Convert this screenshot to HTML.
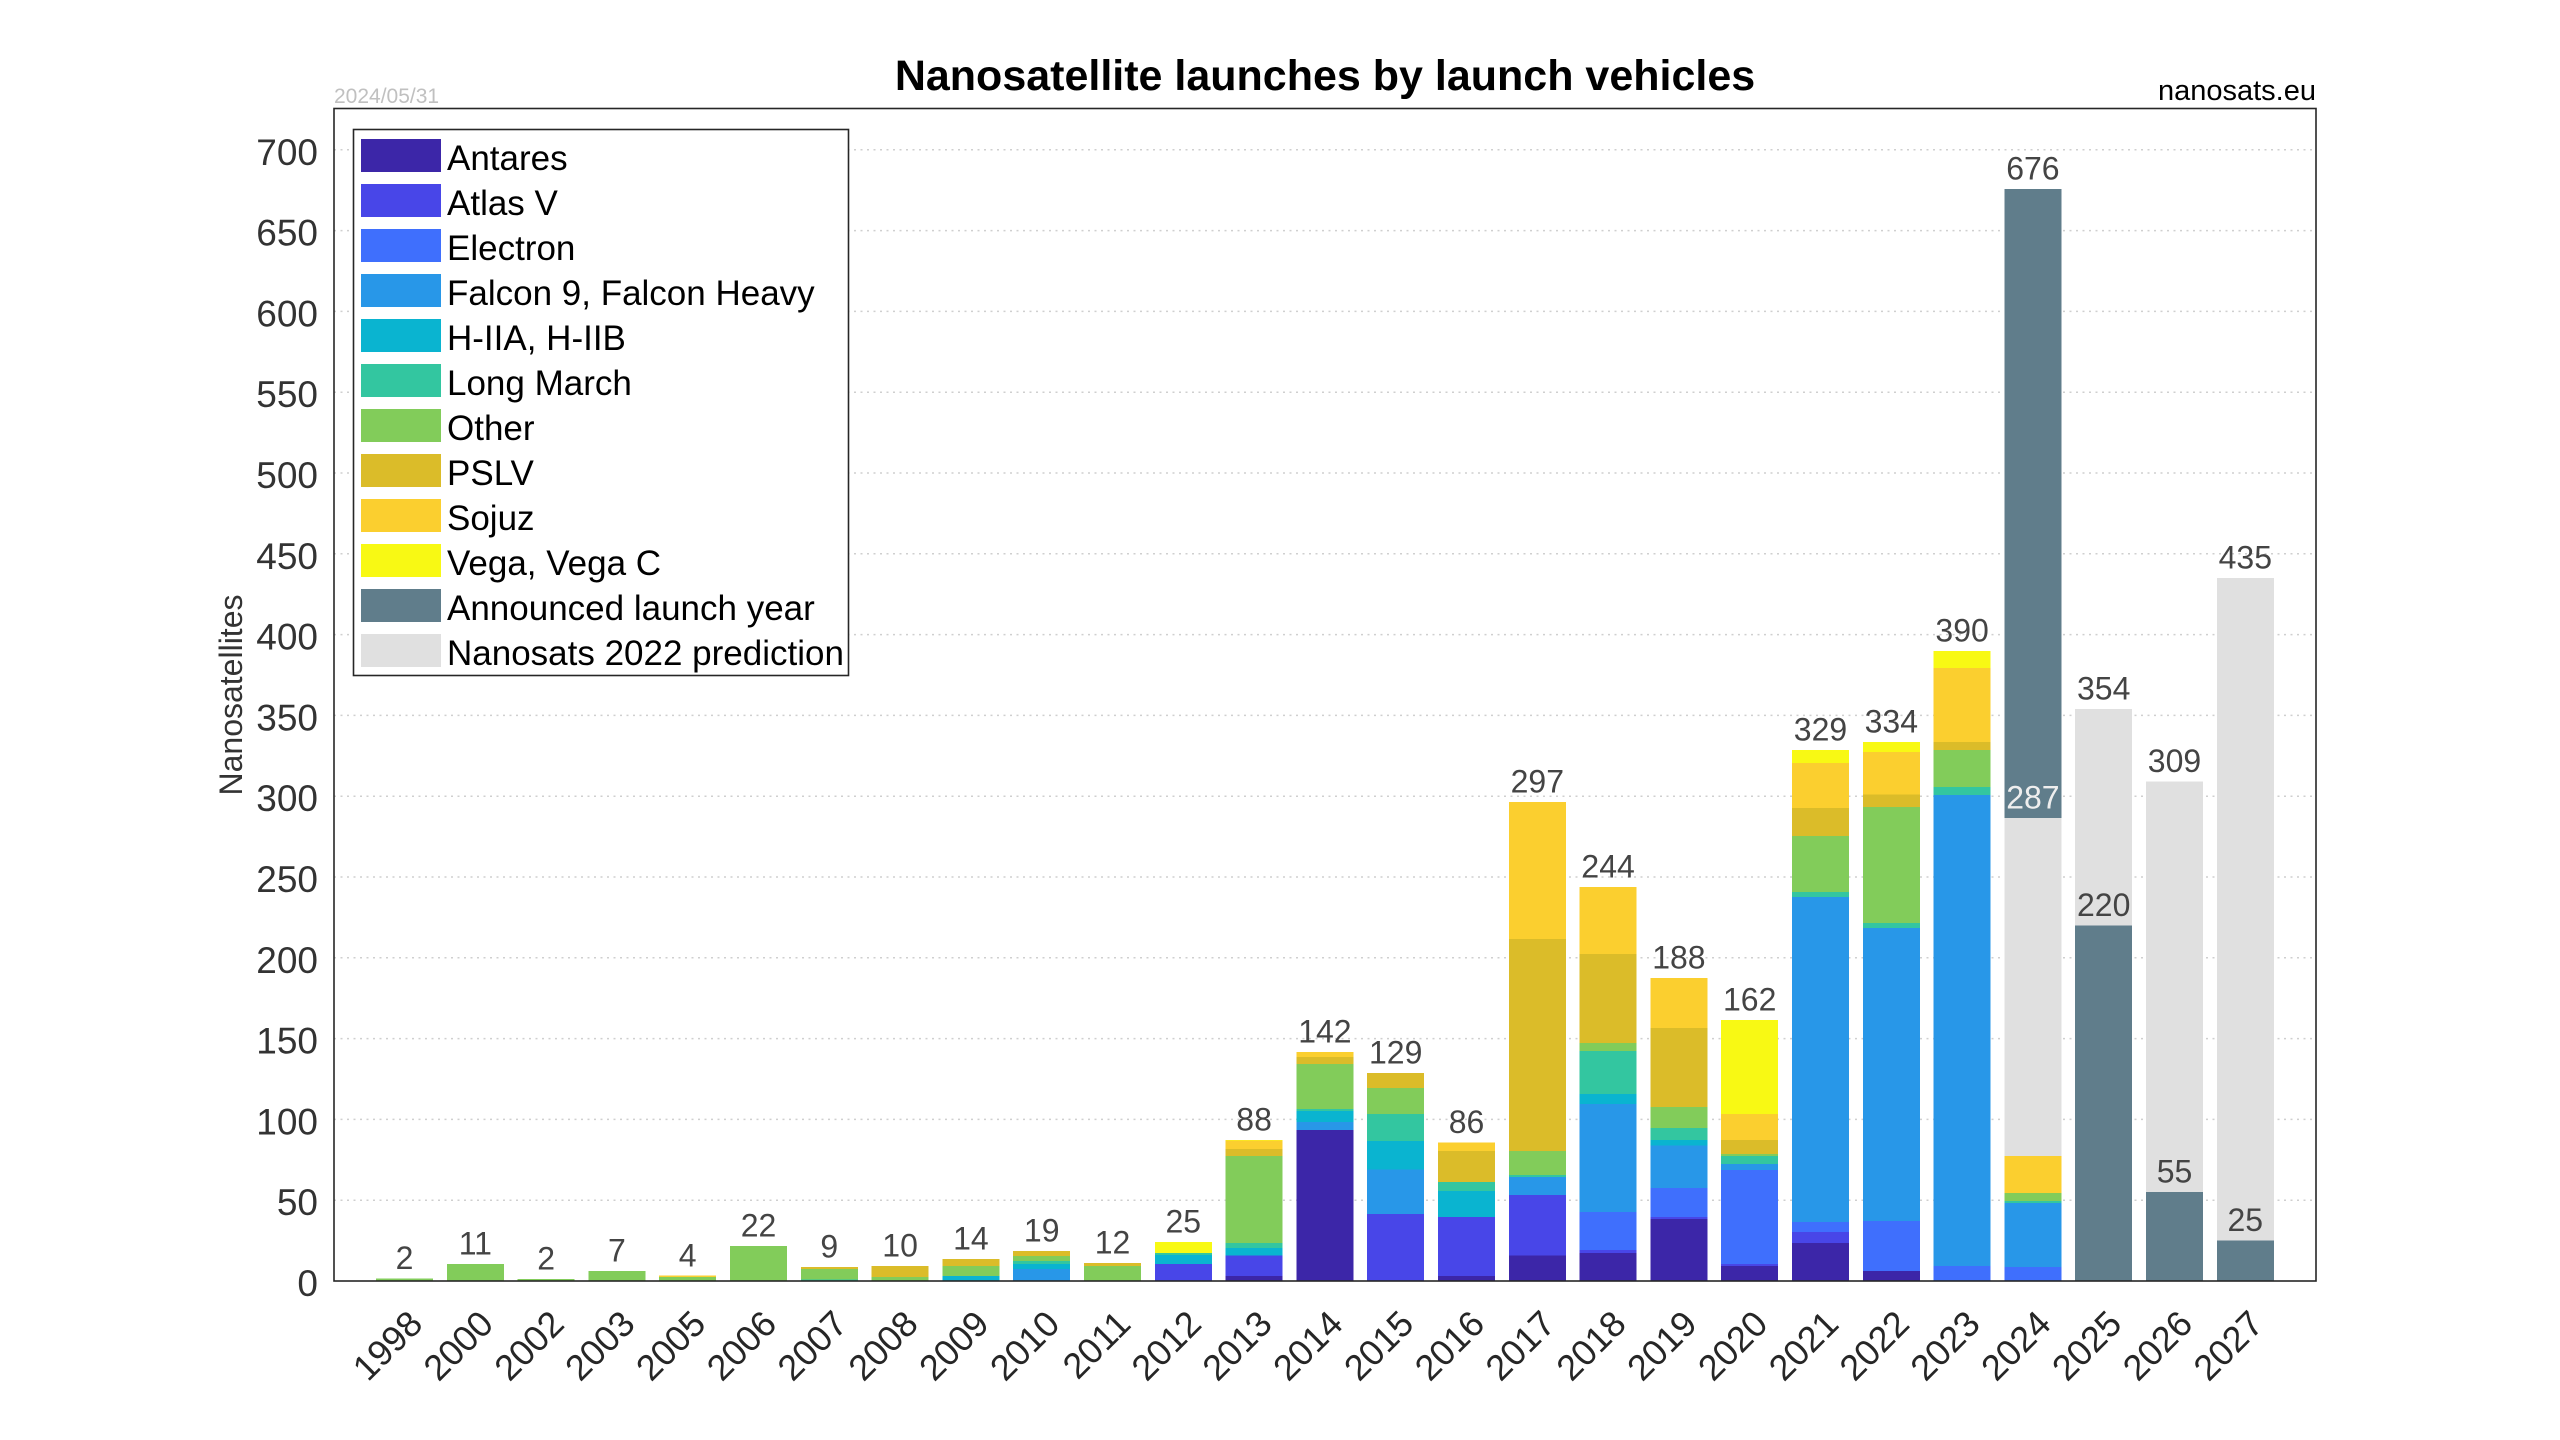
<!DOCTYPE html>
<html><head><meta charset="utf-8"><style>
html,body{margin:0;padding:0;background:#fff;}
svg{display:block;font-family:"Liberation Sans",Arial,sans-serif;}
</style></head><body>
<svg width="2560" height="1440" viewBox="0 0 2560 1440" xmlns="http://www.w3.org/2000/svg">
<rect x="0" y="0" width="2560" height="1440" fill="#fff"/>
<!-- title -->
<text x="1325" y="90" font-size="43" font-weight="bold" text-anchor="middle" fill="#000">Nanosatellite launches by launch vehicles</text>
<text x="334" y="103" font-size="21" fill="#c0c0c0">2024/05/31</text>
<text x="2316" y="100" font-size="29" text-anchor="end" fill="#000">nanosats.eu</text>
<!-- grid -->
<g stroke="#cfcfcf" stroke-width="1.5" stroke-dasharray="2,4.5">
<line x1="334" x2="2316" y1="1200.2" y2="1200.2"/><line x1="334" x2="2316" y1="1119.4" y2="1119.4"/>
<line x1="334" x2="2316" y1="1038.6" y2="1038.6"/><line x1="334" x2="2316" y1="957.8" y2="957.8"/>
<line x1="334" x2="2316" y1="877" y2="877"/><line x1="334" x2="2316" y1="796.2" y2="796.2"/>
<line x1="334" x2="2316" y1="715.4" y2="715.4"/><line x1="334" x2="2316" y1="634.6" y2="634.6"/>
<line x1="334" x2="2316" y1="553.8" y2="553.8"/><line x1="334" x2="2316" y1="473" y2="473"/>
<line x1="334" x2="2316" y1="392.2" y2="392.2"/><line x1="334" x2="2316" y1="311.4" y2="311.4"/>
<line x1="334" x2="2316" y1="230.6" y2="230.6"/><line x1="334" x2="2316" y1="149.8" y2="149.8"/>
</g>
<!-- bars -->
<g transform="translate(0,1281) scale(1,-1.616)" shape-rendering="crispEdges">
<rect x="376" width="57" y="0" height="1.5" fill="#82cc5a"/>
<rect x="446.8" width="57" y="0" height="10.5" fill="#82cc5a"/>
<rect x="517.6" width="57" y="0" height="1.3" fill="#82cc5a"/>
<rect x="588.4" width="57" y="0" height="6.2" fill="#82cc5a"/>
<rect x="659.2" width="57" y="0" height="2.5" fill="#82cc5a"/>
<rect x="659.2" width="57" y="2.5" height="0.8" fill="#fbcf2f"/>
<rect x="730" width="57" y="0" height="21.6" fill="#82cc5a"/>
<rect x="800.8" width="57" y="0" height="0.8" fill="#33c6a0"/>
<rect x="800.8" width="57" y="0.8" height="6.6" fill="#82cc5a"/>
<rect x="800.8" width="57" y="7.4" height="1.3" fill="#dbbc29"/>
<rect x="871.6" width="57" y="0" height="2.5" fill="#82cc5a"/>
<rect x="871.6" width="57" y="2.5" height="6.8" fill="#dbbc29"/>
<rect x="942.4" width="57" y="0" height="3.1" fill="#0ab4d0"/>
<rect x="942.4" width="57" y="3.1" height="6.2" fill="#82cc5a"/>
<rect x="942.4" width="57" y="9.3" height="4.3" fill="#dbbc29"/>
<rect x="1013.2" width="57" y="0" height="7.4" fill="#2897e8"/>
<rect x="1013.2" width="57" y="7.4" height="3.1" fill="#0ab4d0"/>
<rect x="1013.2" width="57" y="10.5" height="1.9" fill="#33c6a0"/>
<rect x="1013.2" width="57" y="12.4" height="3.1" fill="#82cc5a"/>
<rect x="1013.2" width="57" y="15.5" height="3.1" fill="#dbbc29"/>
<rect x="1084" width="57" y="0" height="9.3" fill="#82cc5a"/>
<rect x="1084" width="57" y="9.3" height="1.8" fill="#dbbc29"/>
<rect x="1154.8" width="57" y="0" height="10.5" fill="#4846e8"/>
<rect x="1154.8" width="57" y="10.5" height="5.6" fill="#0ab4d0"/>
<rect x="1154.8" width="57" y="16.1" height="1.2" fill="#33c6a0"/>
<rect x="1154.8" width="57" y="17.3" height="6.8" fill="#f8f914"/>
<rect x="1225.6" width="57" y="0" height="3.1" fill="#3c26a8"/>
<rect x="1225.6" width="57" y="3.1" height="12.6" fill="#4846e8"/>
<rect x="1225.6" width="57" y="15.7" height="4.7" fill="#0ab4d0"/>
<rect x="1225.6" width="57" y="20.4" height="3.1" fill="#33c6a0"/>
<rect x="1225.6" width="57" y="23.5" height="53.8" fill="#82cc5a"/>
<rect x="1225.6" width="57" y="77.3" height="4.3" fill="#dbbc29"/>
<rect x="1225.6" width="57" y="81.6" height="5.2" fill="#fbcf2f"/>
<rect x="1225.6" width="57" y="86.8" height="0.6" fill="#f8f914"/>
<rect x="1296.4" width="57" y="0" height="93.4" fill="#3c26a8"/>
<rect x="1296.4" width="57" y="93.4" height="5" fill="#2897e8"/>
<rect x="1296.4" width="57" y="98.4" height="6.8" fill="#0ab4d0"/>
<rect x="1296.4" width="57" y="105.2" height="1.2" fill="#33c6a0"/>
<rect x="1296.4" width="57" y="106.4" height="27.8" fill="#82cc5a"/>
<rect x="1296.4" width="57" y="134.2" height="4.4" fill="#dbbc29"/>
<rect x="1296.4" width="57" y="138.6" height="3" fill="#fbcf2f"/>
<rect x="1367.2" width="57" y="0" height="41.4" fill="#4846e8"/>
<rect x="1367.2" width="57" y="41.4" height="27.5" fill="#2897e8"/>
<rect x="1367.2" width="57" y="68.9" height="17.7" fill="#0ab4d0"/>
<rect x="1367.2" width="57" y="86.6" height="16.7" fill="#33c6a0"/>
<rect x="1367.2" width="57" y="103.3" height="16.1" fill="#82cc5a"/>
<rect x="1367.2" width="57" y="119.4" height="9.3" fill="#dbbc29"/>
<rect x="1438" width="57" y="0" height="3.1" fill="#3c26a8"/>
<rect x="1438" width="57" y="3.1" height="36.5" fill="#4846e8"/>
<rect x="1438" width="57" y="39.6" height="16.1" fill="#0ab4d0"/>
<rect x="1438" width="57" y="55.7" height="5.5" fill="#33c6a0"/>
<rect x="1438" width="57" y="61.2" height="19.2" fill="#dbbc29"/>
<rect x="1438" width="57" y="80.4" height="5.2" fill="#fbcf2f"/>
<rect x="1508.8" width="57" y="0" height="15.7" fill="#3c26a8"/>
<rect x="1508.8" width="57" y="15.7" height="37.5" fill="#4846e8"/>
<rect x="1508.8" width="57" y="53.2" height="11.1" fill="#2897e8"/>
<rect x="1508.8" width="57" y="64.3" height="1.3" fill="#33c6a0"/>
<rect x="1508.8" width="57" y="65.6" height="14.8" fill="#82cc5a"/>
<rect x="1508.8" width="57" y="80.4" height="131.1" fill="#dbbc29"/>
<rect x="1508.8" width="57" y="211.5" height="84.8" fill="#fbcf2f"/>
<rect x="1579.6" width="57" y="0" height="17.3" fill="#3c26a8"/>
<rect x="1579.6" width="57" y="17.3" height="1.9" fill="#4846e8"/>
<rect x="1579.6" width="57" y="19.2" height="23.5" fill="#3f6ffd"/>
<rect x="1579.6" width="57" y="42.7" height="66.8" fill="#2897e8"/>
<rect x="1579.6" width="57" y="109.5" height="6.2" fill="#0ab4d0"/>
<rect x="1579.6" width="57" y="115.7" height="26.6" fill="#33c6a0"/>
<rect x="1579.6" width="57" y="142.3" height="4.9" fill="#82cc5a"/>
<rect x="1579.6" width="57" y="147.2" height="55.1" fill="#dbbc29"/>
<rect x="1579.6" width="57" y="202.3" height="41.4" fill="#fbcf2f"/>
<rect x="1650.4" width="57" y="0" height="38.4" fill="#3c26a8"/>
<rect x="1650.4" width="57" y="38.4" height="1.2" fill="#4846e8"/>
<rect x="1650.4" width="57" y="39.6" height="17.9" fill="#3f6ffd"/>
<rect x="1650.4" width="57" y="57.5" height="26.4" fill="#2897e8"/>
<rect x="1650.4" width="57" y="83.9" height="3.3" fill="#0ab4d0"/>
<rect x="1650.4" width="57" y="87.2" height="7.4" fill="#33c6a0"/>
<rect x="1650.4" width="57" y="94.6" height="13" fill="#82cc5a"/>
<rect x="1650.4" width="57" y="107.6" height="48.9" fill="#dbbc29"/>
<rect x="1650.4" width="57" y="156.5" height="30.9" fill="#fbcf2f"/>
<rect x="1721.2" width="57" y="0" height="9.3" fill="#3c26a8"/>
<rect x="1721.2" width="57" y="9.3" height="1.2" fill="#4846e8"/>
<rect x="1721.2" width="57" y="10.5" height="58.2" fill="#3f6ffd"/>
<rect x="1721.2" width="57" y="68.7" height="3.7" fill="#2897e8"/>
<rect x="1721.2" width="57" y="72.4" height="4.9" fill="#33c6a0"/>
<rect x="1721.2" width="57" y="77.3" height="1.3" fill="#82cc5a"/>
<rect x="1721.2" width="57" y="78.6" height="8.6" fill="#dbbc29"/>
<rect x="1721.2" width="57" y="87.2" height="16.1" fill="#fbcf2f"/>
<rect x="1721.2" width="57" y="103.3" height="58.1" fill="#f8f914"/>
<rect x="1792" width="57" y="0" height="23.5" fill="#3c26a8"/>
<rect x="1792" width="57" y="23.5" height="6.8" fill="#4846e8"/>
<rect x="1792" width="57" y="30.3" height="6.2" fill="#3f6ffd"/>
<rect x="1792" width="57" y="36.5" height="201" fill="#2897e8"/>
<rect x="1792" width="57" y="237.5" height="3.1" fill="#33c6a0"/>
<rect x="1792" width="57" y="240.6" height="34.7" fill="#82cc5a"/>
<rect x="1792" width="57" y="275.3" height="17.3" fill="#dbbc29"/>
<rect x="1792" width="57" y="292.6" height="27.8" fill="#fbcf2f"/>
<rect x="1792" width="57" y="320.4" height="8.1" fill="#f8f914"/>
<rect x="1862.8" width="57" y="0" height="6.2" fill="#3c26a8"/>
<rect x="1862.8" width="57" y="6.2" height="30.9" fill="#3f6ffd"/>
<rect x="1862.8" width="57" y="37.1" height="181.3" fill="#2897e8"/>
<rect x="1862.8" width="57" y="218.4" height="3" fill="#33c6a0"/>
<rect x="1862.8" width="57" y="221.4" height="71.8" fill="#82cc5a"/>
<rect x="1862.8" width="57" y="293.2" height="8" fill="#dbbc29"/>
<rect x="1862.8" width="57" y="301.2" height="26" fill="#fbcf2f"/>
<rect x="1862.8" width="57" y="327.2" height="6.2" fill="#f8f914"/>
<rect x="1933.6" width="57" y="0" height="9.3" fill="#3f6ffd"/>
<rect x="1933.6" width="57" y="9.3" height="291.3" fill="#2897e8"/>
<rect x="1933.6" width="57" y="300.6" height="5" fill="#33c6a0"/>
<rect x="1933.6" width="57" y="305.6" height="22.9" fill="#82cc5a"/>
<rect x="1933.6" width="57" y="328.5" height="4.9" fill="#dbbc29"/>
<rect x="1933.6" width="57" y="333.4" height="45.8" fill="#fbcf2f"/>
<rect x="1933.6" width="57" y="379.2" height="10.5" fill="#f8f914"/>
<rect x="2004.4" width="57" y="0" height="8.7" fill="#3f6ffd"/>
<rect x="2004.4" width="57" y="8.7" height="39.5" fill="#2897e8"/>
<rect x="2004.4" width="57" y="48.2" height="1.3" fill="#33c6a0"/>
<rect x="2004.4" width="57" y="49.5" height="4.9" fill="#82cc5a"/>
<rect x="2004.4" width="57" y="54.4" height="22.9" fill="#fbcf2f"/>
<rect x="2004.4" width="57" y="77.3" height="209.1" fill="#e0e0e0"/>
<rect x="2004.4" width="57" y="286.4" height="389.4" fill="#607d8b"/>
<rect x="2075.2" width="57" y="0" height="220" fill="#607d8b"/>
<rect x="2075.2" width="57" y="220" height="134" fill="#e0e0e0"/>
<rect x="2146" width="57" y="0" height="55" fill="#607d8b"/>
<rect x="2146" width="57" y="55" height="254" fill="#e0e0e0"/>
<rect x="2216.8" width="57" y="0" height="25" fill="#607d8b"/>
<rect x="2216.8" width="57" y="25" height="410" fill="#e0e0e0"/>
</g>
<!-- axes box -->
<rect x="334" y="108.5" width="1982" height="1172.5" fill="none" stroke="#262626" stroke-width="1.6"/>
<!-- value labels -->
<g font-size="32" fill="#444" text-anchor="middle">
<text x="404.5" y="1269">2</text>
<text x="475.3" y="1254.5">11</text>
<text x="546.1" y="1269.4">2</text>
<text x="616.9" y="1261.5">7</text>
<text x="687.7" y="1266.5">4</text>
<text x="758.5" y="1236.6">22</text>
<text x="829.3" y="1257.4">9</text>
<text x="900.1" y="1256.5">10</text>
<text x="970.9" y="1249.5">14</text>
<text x="1041.7" y="1241.4">19</text>
<text x="1112.5" y="1253.6">12</text>
<text x="1183.3" y="1232.6">25</text>
<text x="1254.1" y="1130.3">88</text>
<text x="1324.9" y="1042.7">142</text>
<text x="1395.7" y="1063.5">129</text>
<text x="1466.5" y="1133.2">86</text>
<text x="1537.3" y="792.7">297</text>
<text x="1608.1" y="877.7">244</text>
<text x="1678.9" y="968.7">188</text>
<text x="1749.7" y="1010.7">162</text>
<text x="1820.5" y="740.6">329</text>
<text x="1891.3" y="732.7">334</text>
<text x="1962.1" y="641.7">390</text>
<text x="2032.9" y="179.4">676</text>
<text x="2032.9" y="808.7" fill="#eeeeee">287</text>
<text x="2103.7" y="699.4">354</text>
<text x="2103.7" y="916">220</text>
<text x="2174.5" y="772.2">309</text>
<text x="2174.5" y="1182.6">55</text>
<text x="2245.3" y="568.5">435</text>
<text x="2245.3" y="1231.1">25</text>
</g>
<!-- y tick labels -->
<g font-size="37" fill="#333" text-anchor="end">
<text x="318" y="1296">0</text>
<text x="318" y="1215.2">50</text>
<text x="318" y="1134.4">100</text>
<text x="318" y="1053.6">150</text>
<text x="318" y="972.8">200</text>
<text x="318" y="892">250</text>
<text x="318" y="811.2">300</text>
<text x="318" y="730.4">350</text>
<text x="318" y="649.6">400</text>
<text x="318" y="568.8">450</text>
<text x="318" y="488">500</text>
<text x="318" y="407.2">550</text>
<text x="318" y="326.4">600</text>
<text x="318" y="245.6">650</text>
<text x="318" y="164.8">700</text>
</g>
<text x="242" y="695" font-size="32" fill="#333" text-anchor="middle" transform="rotate(-90 242 695)">Nanosatellites</text>
<!-- x tick labels -->
<g font-size="36" fill="#262626" text-anchor="end">
<text transform="translate(424.5,1326) rotate(-45)">1998</text>
<text transform="translate(495.3,1326) rotate(-45)">2000</text>
<text transform="translate(566.1,1326) rotate(-45)">2002</text>
<text transform="translate(636.9,1326) rotate(-45)">2003</text>
<text transform="translate(707.7,1326) rotate(-45)">2005</text>
<text transform="translate(778.5,1326) rotate(-45)">2006</text>
<text transform="translate(849.3,1326) rotate(-45)">2007</text>
<text transform="translate(920.1,1326) rotate(-45)">2008</text>
<text transform="translate(990.9,1326) rotate(-45)">2009</text>
<text transform="translate(1061.7,1326) rotate(-45)">2010</text>
<text transform="translate(1132.5,1326) rotate(-45)">2011</text>
<text transform="translate(1203.3,1326) rotate(-45)">2012</text>
<text transform="translate(1274.1,1326) rotate(-45)">2013</text>
<text transform="translate(1344.9,1326) rotate(-45)">2014</text>
<text transform="translate(1415.7,1326) rotate(-45)">2015</text>
<text transform="translate(1486.5,1326) rotate(-45)">2016</text>
<text transform="translate(1557.3,1326) rotate(-45)">2017</text>
<text transform="translate(1628.1,1326) rotate(-45)">2018</text>
<text transform="translate(1698.9,1326) rotate(-45)">2019</text>
<text transform="translate(1769.7,1326) rotate(-45)">2020</text>
<text transform="translate(1840.5,1326) rotate(-45)">2021</text>
<text transform="translate(1911.3,1326) rotate(-45)">2022</text>
<text transform="translate(1982.1,1326) rotate(-45)">2023</text>
<text transform="translate(2052.9,1326) rotate(-45)">2024</text>
<text transform="translate(2123.7,1326) rotate(-45)">2025</text>
<text transform="translate(2194.5,1326) rotate(-45)">2026</text>
<text transform="translate(2265.3,1326) rotate(-45)">2027</text>
</g>
<!-- legend -->
<rect x="353.5" y="129.5" width="495" height="546" fill="#fff" stroke="#262626" stroke-width="1.6"/>
<g shape-rendering="crispEdges">
<rect x="361" y="139" width="80" height="33" fill="#3c26a8"/>
<rect x="361" y="184" width="80" height="33" fill="#4846e8"/>
<rect x="361" y="229" width="80" height="33" fill="#3f6ffd"/>
<rect x="361" y="274" width="80" height="33" fill="#2897e8"/>
<rect x="361" y="319" width="80" height="33" fill="#0ab4d0"/>
<rect x="361" y="364" width="80" height="33" fill="#33c6a0"/>
<rect x="361" y="409" width="80" height="33" fill="#82cc5a"/>
<rect x="361" y="454" width="80" height="33" fill="#dbbc29"/>
<rect x="361" y="499" width="80" height="33" fill="#fbcf2f"/>
<rect x="361" y="544" width="80" height="33" fill="#f8f914"/>
<rect x="361" y="589" width="80" height="33" fill="#607d8b"/>
<rect x="361" y="634" width="80" height="33" fill="#e0e0e0"/>
</g>
<g font-size="35" fill="#000">
<text x="447" y="170">Antares</text>
<text x="447" y="215">Atlas V</text>
<text x="447" y="260">Electron</text>
<text x="447" y="305">Falcon 9, Falcon Heavy</text>
<text x="447" y="350">H-IIA, H-IIB</text>
<text x="447" y="395">Long March</text>
<text x="447" y="440">Other</text>
<text x="447" y="485">PSLV</text>
<text x="447" y="530">Sojuz</text>
<text x="447" y="575">Vega, Vega C</text>
<text x="447" y="620">Announced launch year</text>
<text x="447" y="665">Nanosats 2022 prediction</text>
</g>
</svg>
</body></html>
